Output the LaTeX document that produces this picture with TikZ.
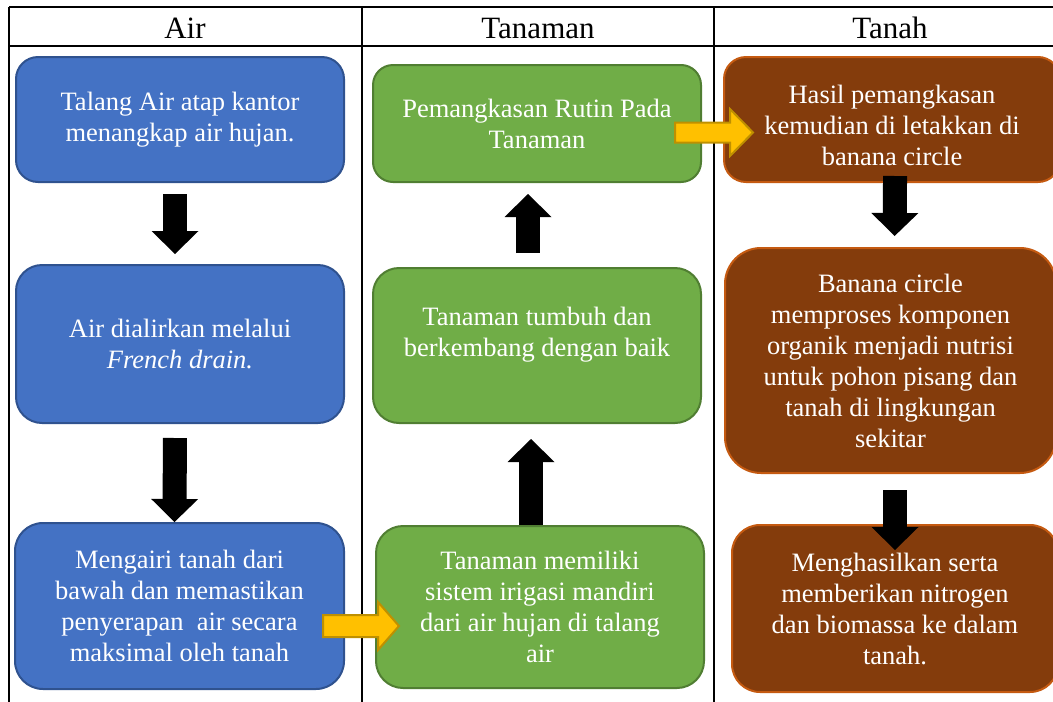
\documentclass[tikz,border=0pt]{standalone}
\usepackage{fontspec}
\setmainfont{Liberation Serif}
\usepackage{xcolor}
\usetikzlibrary{arrows.meta,positioning}

\definecolor{airfill}{HTML}{4472C4}
\definecolor{airline}{HTML}{2F528F}
\definecolor{tanamanfill}{HTML}{70AD47}
\definecolor{tanamanline}{HTML}{507E32}
\definecolor{tanahfill}{HTML}{843C0C}
\definecolor{tanahline}{HTML}{C55A11}
\definecolor{kuningfill}{HTML}{FFC000}
\definecolor{kuningline}{HTML}{BF9000}

\begin{document}
\begin{tikzpicture}[
    x=1pt, y=-1pt,
    flowstep/.style={rounded corners=22pt, line width=2pt, text=white, align=center,
      inner sep=0pt, font=\fontsize{26.5}{31}\selectfont},
    airstep/.style={flowstep, draw=airline, fill=airfill},
    tanamanstep/.style={flowstep, draw=tanamanline, fill=tanamanfill},
    tanahstep/.style={flowstep, draw=tanahline, fill=tanahfill},
    header/.style={anchor=base, font=\fontsize{31}{37}\selectfont},
    gridline/.style={line width=1.8pt},
    fatarrow/.style={line width=24pt, -{Triangle[length=23pt, width=47pt, line width=0pt]}},
    yellowarrow/.style={draw=kuningline, fill=kuningfill, line width=2pt, line join=miter}
  ]
    \useasboundingbox (0,0) rectangle (1053,702);

    % table
    \draw[gridline] (9,7) -- (1060,7);
    \draw[gridline] (9,46) -- (1060,46);
    \draw[gridline] (9,7) -- (9,702);
    \draw[gridline] (362,7) -- (362,702);
    \draw[gridline] (714,7) -- (714,702);
    \node[header] (hair) at (185,38) {Air};
    \node[header] (htanaman) at (538,38) {Tanaman};
    \node[header] (htanah) at (890,38) {Tanah};

    % kolom air
    \node[airstep, minimum width=328pt, minimum height=125pt] (talang) at (180,119.5)
      {Talang Air atap kantor\\menangkap air hujan.};
    \node[airstep, minimum width=328pt, minimum height=158pt, rounded corners=26pt] (drain) at (180,344)
      {Air dialirkan melalui\\\textit{French drain.}};
    \node[airstep, minimum width=329pt, minimum height=166pt, rounded corners=28pt] (irigasi) at (179.5,606)
      {Mengairi tanah dari\\bawah dan memastikan\\penyerapan\ \ air secara\\maksimal oleh tanah};

    % kolom tanaman
    \node[tanamanstep, minimum width=328pt, minimum height=162pt, rounded corners=27pt] (mandiri) at (540,607)
      {Tanaman memiliki\\sistem irigasi mandiri\\dari air hujan di talang\\air};
    \node[tanamanstep, minimum width=328pt, minimum height=155pt, rounded corners=26pt, text depth=28pt] (tumbuh) at (537,345.5)
      {Tanaman tumbuh dan\\berkembang dengan baik};
    \node[tanamanstep, minimum width=328pt, minimum height=117pt, rounded corners=20pt] (pangkas) at (537,123.5)
      {Pemangkasan Rutin Pada\\Tanaman};

    % kolom tanah
    \node[tanahstep, minimum width=336pt, minimum height=125pt] (hasil) at (892,119.5)
      {\rule{0pt}{30pt}Hasil pemangkasan\\kemudian di letakkan di\\banana circle};
    \node[tanahstep, minimum width=331pt, minimum height=225pt, rounded corners=36pt] (banana) at (890.5,360.5)
      {Banana circle\\memproses komponen\\organik menjadi nutrisi\\untuk pohon pisang dan\\tanah di lingkungan\\sekitar};
    \node[tanahstep, minimum width=326pt, minimum height=167pt, rounded corners=28pt] (nitrogen) at (895,608.5)
      {Menghasilkan serta\\memberikan nitrogen\\dan biomassa ke dalam\\tanah.};

    % panah hitam
    \draw[fatarrow, shorten <=11pt, shorten >=10pt] ([xshift=-5pt]talang.south) -- ([xshift=-5pt]drain.north);
    \draw[fatarrow, shorten <=14pt] ([xshift=-5pt]drain.south) -- ([xshift=-5pt]irigasi.north);
    \draw[fatarrow, shorten >=15pt] ([xshift=-9pt]mandiri.north) -- ([xshift=-6pt]tumbuh.south);
    \draw[fatarrow, shorten <=14pt, shorten >=11pt] ([xshift=-9pt]tumbuh.north) -- ([xshift=-9pt]pangkas.south);
    \draw[fatarrow, shorten <=-7pt, shorten >=11pt] ([xshift=3pt]hasil.south) -- ([xshift=4pt]banana.north);
    \draw[fatarrow, shorten <=16pt, shorten >=-26pt] ([xshift=4.5pt]banana.south) -- ([xshift=0pt]nitrogen.north);

    % panah kuning
    \coordinate (kuning1) at ([xshift=-22pt, yshift=-20pt]irigasi.east);
    \coordinate (kuning2) at ([xshift=-27pt, yshift=-9pt]pangkas.east);
    \draw[yellowarrow] (kuning1) ++(0,-11) -- ++(55,0) -- ++(0,-13) -- ++(21,24)
      -- ++(-21,24) -- ++(0,-13) -- ++(-55,0) -- cycle;
    \draw[yellowarrow] (kuning2) ++(0,-10) -- ++(55,0) -- ++(0,-13.5) -- ++(23,23.5)
      -- ++(-23,23.5) -- ++(0,-13.5) -- ++(-55,0) -- cycle;
  \end{tikzpicture}
\end{document}
